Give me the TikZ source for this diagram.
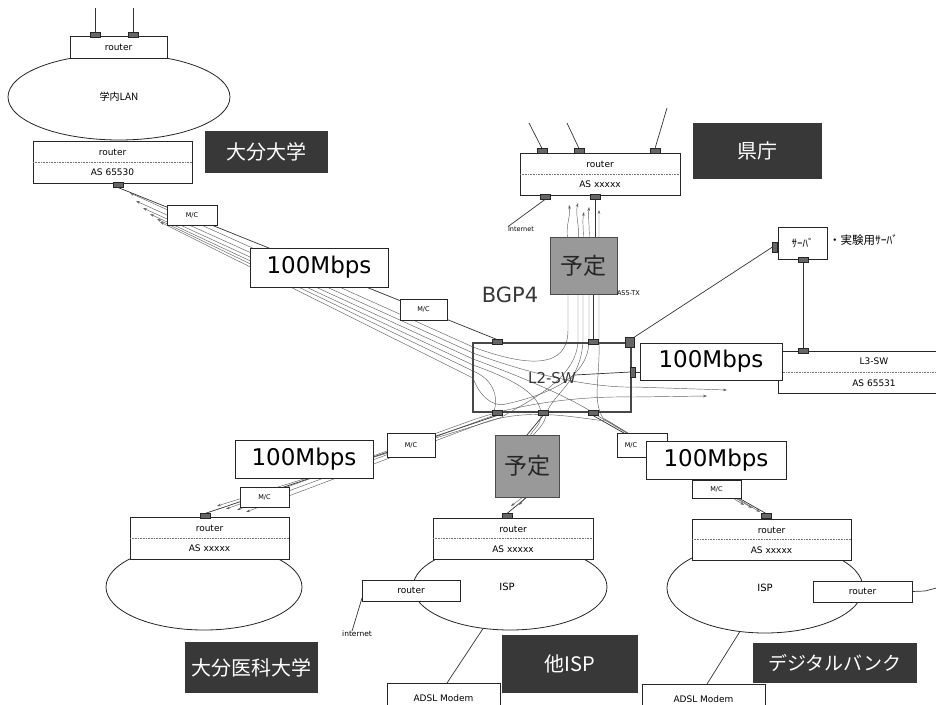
\documentclass[tikz,border=0pt]{standalone}
\usepackage{fontspec}
\setsansfont{DejaVu Sans}
\newfontfamily\cjk{Noto Sans CJK JP}
\usetikzlibrary{shapes.geometric,arrows.meta,calc}
\pgfdeclarelayer{lanlayer}
\pgfdeclarelayer{flowlayer}
\pgfsetlayers{lanlayer,flowlayer,main}
\begin{document}
\begin{tikzpicture}[x=1pt,y=-1pt,
  every node/.style={inner sep=0pt, outer sep=0pt},
  box/.style={draw=black!85, line width=0.8pt, fill=white, rectangle},
  lan/.style={draw=black!85, line width=0.8pt, ellipse, fill=white},
  port/.style={draw=black!85, fill=black!60, line width=0.4pt, minimum width=10pt, minimum height=5pt},
  vport/.style={port, minimum width=5pt, minimum height=10pt},
  darkbox/.style={fill=black!78, text=white, font=\cjk\fontsize{20}{20}\selectfont},
  tinytxt/.style={font=\sffamily\fontsize{6.5}{6.5}\selectfont},
  smalltxt/.style={font=\sffamily\fontsize{9}{9}\selectfont},
  speed/.style={box, font=\sffamily\fontsize{23}{23}\selectfont},
  mcbox/.style={box, font=\sffamily\fontsize{6.5}{6.5}\selectfont},
  plan/.style={draw=black!70, fill=black!40, line width=0.8pt, text=black!85, font=\cjk\fontsize{23}{23}\selectfont},
  link/.style={draw=black!80, line width=0.7pt},
  flow/.style={draw=black!62, line width=0.45pt, {Stealth[length=4pt,width=2.6pt]}-{Stealth[length=4pt,width=2.6pt]}},
  sepline/.style={draw=black!55, densely dotted, line width=0.6pt},
]
\useasboundingbox (0,0) rectangle (936,704);
\begin{pgfonlayer}{lanlayer}
  \fill[white] (0,0) rectangle (936,704);
  \node[lan, minimum width=222pt, minimum height=86pt, font=\cjk\fontsize{10}{10}\selectfont] (lanA) at (119,97) {学内LAN};
  \node[lan, minimum width=196pt, minimum height=86pt] (lanM) at (204,587) {};
  \node[lan, minimum width=194pt, minimum height=86pt, font=\sffamily\fontsize{10}{10}\selectfont] (lanS) at (510,587) {\hspace*{-6pt}ISP};
  \node[lan, minimum width=196pt, minimum height=90pt, font=\sffamily\fontsize{10}{10}\selectfont] (lanD) at (765,588) {ISP};
\end{pgfonlayer}

% ---------- 大分大学 ----------
\node[box, minimum width=97pt, minimum height=22pt, smalltxt] (rtA) at (118.5,47) {router};
\node[box, minimum width=159pt, minimum height=42pt] (rtB) at (112.5,162) {};
\draw[sepline] (rtB.west) -- (rtB.east);
\node[smalltxt] at ($(rtB.center)+(0,-9.5)$) {router};
\node[smalltxt] at ($(rtB.center)+(0,10.5)$) {AS 65530};
\node[darkbox, minimum width=123pt, minimum height=42pt] (dkA) at (266.5,152) {大分大学};

% ---------- 県庁 ----------
\node[box, minimum width=160pt, minimum height=42pt] (rtK) at (600,174) {};
\draw[sepline] (rtK.west) -- (rtK.east);
\node[smalltxt] at ($(rtK.center)+(0,-9.5)$) {router};
\node[smalltxt] at ($(rtK.center)+(0,10.5)$) {AS xxxxx};
\node[darkbox, minimum width=129pt, minimum height=56pt] (dkK) at (757.5,151) {県庁};
\node[tinytxt, anchor=west] (inetK) at (508,229) {Internet};

% ---------- L2-SW ----------
\node[draw=black!72, line width=2.6pt, minimum width=158pt, minimum height=69pt] (L2) at (552,377.5) {};
\node[font=\sffamily\fontsize{15}{15}\selectfont, text=black!78] (L2t) at (552,378) {L2-SW};
\node[font=\sffamily\fontsize{21}{21}\selectfont, text=black!78] (bgp) at (510,295) {BGP4};

% ---------- 予定 ----------
\node[plan, minimum width=67pt, minimum height=57pt] (yoteiA) at (583.5,265.5) {予定};
\node[tinytxt, anchor=west] (astx) at (617,293) {AS5-TX};
\node[plan, minimum width=64pt, minimum height=62pt] (yoteiB) at (527,466) {予定};

% ---------- server / L3 ----------
\node[box, minimum width=49pt, minimum height=32pt, font=\cjk\fontsize{11}{11}\selectfont] (srv) at (802.5,243) {ｻｰﾊﾞ};
\node[anchor=west, font=\cjk\fontsize{11.5}{11.5}\selectfont] (srvlab) at (829,240) {・実験用ｻｰﾊﾞ};
\node[box, minimum width=182pt, minimum height=42pt] (L3) at (869,372) {};
\draw[sepline] (L3.west) -- (L3.east);
\node[smalltxt] at (874,361.5) {L3-SW};
\node[smalltxt] at (874,383) {AS 65531};

% ---------- lower ----------
\node[box, minimum width=159pt, minimum height=42pt] (rtM) at (209.5,538) {};
\draw[sepline] (rtM.west) -- (rtM.east);
\node[smalltxt] at ($(rtM.center)+(0,-9.5)$) {router};
\node[smalltxt] at ($(rtM.center)+(0,10.5)$) {AS xxxxx};
\node[darkbox, minimum width=133pt, minimum height=51pt] (dkM) at (251.5,667.5) {大分医科大学};

\node[box, minimum width=160pt, minimum height=41pt] (rtS) at (513,538.5) {};
\draw[sepline] (rtS.west) -- (rtS.east);
\node[smalltxt] at ($(rtS.center)+(0,-9.5)$) {router};
\node[smalltxt] at ($(rtS.center)+(0,10.5)$) {AS xxxxx};
\node[box, minimum width=98pt, minimum height=21pt, smalltxt] (rtS2) at (411,590.5) {router};
\node[font=\sffamily\fontsize{7.5}{7.5}\selectfont] (inetS) at (357,634) {internet};
\node[box, minimum width=113pt, minimum height=30pt, smalltxt] (adslS) at (443.5,698) {ADSL Modem};
\node[darkbox, minimum width=136pt, minimum height=58pt] (dkS) at (570,664) {他ISP};

\node[box, minimum width=159pt, minimum height=41pt] (rtD) at (771.5,539.5) {};
\draw[sepline] (rtD.west) -- (rtD.east);
\node[smalltxt] at ($(rtD.center)+(0,-9.5)$) {router};
\node[smalltxt] at ($(rtD.center)+(0,10.5)$) {AS xxxxx};
\node[box, minimum width=99pt, minimum height=21pt, smalltxt] (rtD2) at (862.5,591.5) {router};
\node[box, minimum width=123pt, minimum height=30pt, smalltxt] (adslD) at (703.5,699) {ADSL Modem};
\node[darkbox, minimum width=164pt, minimum height=40pt, font=\cjk\fontsize{19}{19}\selectfont] (dkD) at (835,663) {デジタルバンク};
\coordinate (outD) at (940,587);

% ---------- M/C and 100Mbps ----------
\node[mcbox, minimum width=50pt, minimum height=20pt] (mc1) at (192,215) {M/C};
\node[mcbox, minimum width=47pt, minimum height=21pt] (mc2) at (423.5,309.5) {M/C};
\node[mcbox, minimum width=48pt, minimum height=24pt] (mc3) at (411,445) {M/C};
\node[mcbox, minimum width=49pt, minimum height=20pt] (mc4) at (264.5,497) {M/C};
\node[mcbox, minimum width=50pt, minimum height=24pt] (mc5) at (642,445) {\hspace*{-22pt}M/C};
\node[mcbox, minimum width=49pt, minimum height=18pt] (mc6) at (716.5,489) {M/C};
\node[speed, minimum width=138pt, minimum height=39pt] (m1) at (319,267.5) {100Mbps};
\node[speed, minimum width=142pt, minimum height=37pt] (m2) at (711,361.5) {100Mbps};
\node[speed, minimum width=138pt, minimum height=38pt] (m3) at (304,459) {100Mbps};
\node[speed, minimum width=140pt, minimum height=38pt] (m4) at (716,460) {100Mbps};

% ---------- ports ----------
\node[port] (pA1) at (95,35) {};
\node[port] (pA2) at (133,35) {};
\node[port] (pA) at (118,185) {};
\node[port] (pK1) at (542,151) {};
\node[port] (pK2) at (579,151) {};
\node[port] (pK3) at (655,151) {};
\node[port] (pKi) at (545,197) {};
\node[port] (pK) at (595,197) {};
\node[port] (pTL) at (497,342) {};
\node[port] (pT2) at (593,342) {};
\node[port, minimum width=9pt, minimum height=10pt] (pTR) at (630,342) {};
\node[vport] (pR) at (633,372) {};
\node[port] (pBL) at (497,413) {};
\node[port] (pBM) at (543,413) {};
\node[port] (pBR) at (593,413) {};
\node[vport] (pSvL) at (775,247) {};
\node[port] (pSvB) at (803,260) {};
\node[port] (pL3) at (803,351) {};
\node[port] (pM) at (205,516) {};
\node[port] (pS) at (507,516) {};
\node[port] (pD) at (766,516) {};

\coordinate (antA1) at (95,8);
\coordinate (antA2) at (133,8);
\coordinate (antK1) at (529,123);
\coordinate (antK2) at (567,123);
\coordinate (antK3) at (667,108);

\begin{pgfonlayer}{flowlayer}
  % antennas, internet, modems
  \draw[link] (pA1.north) -- (antA1);
  \draw[link] (pA2.north) -- (antA2);
  \draw[link] (pK1.north) -- (antK1);
  \draw[link] (pK2.north) -- (antK2);
  \draw[link] (pK3.north) -- (antK3);
  \draw[link] (pKi.south) -- (inetK.north west);
  \draw[link] ($(rtS2.south west)+(0,-3)$) -- ($(inetS.north)+(-5,0)$);
  \draw[link] (lanS.237) -- ($(adslS.north)+(3.5,0)$);
  \draw[link] (lanD.240) -- ($(adslD.north)+(3.5,0)$);
  \draw[link] (rtD2.east) -- (925,591) -- (outD);

  % physical links
  \draw[link] (pA.south) -- (pTL.north);
  \draw[link] (pT2.north) -- (pT2.north |- yoteiA.south);
  \draw[link] (pK.south) -- (pK.south |- yoteiA.north);
  \draw[link] (pTR.north east) -- (pSvL.west);
  \draw[link] (pSvB.south) -- (pL3.north);
  \draw[link] (pR.east) -- (L3.west);
  \draw[link] (pR.west) -- ($(pR.west)+(-56,3)$);
  \draw[link] (pBL.south) -- (pM.north);
  \draw[link] (pBM.south) -- (yoteiB.north);
  \draw[link] (yoteiB.south) -- (pS.north);
  \draw[link] (pBR.south) -- (pD.north);

  % traffic flows
  % from 大分大学
  \draw[flow] (130,193) -- (473,347) .. controls (530,368) and (568,368) .. (568,330)
     -- (568,240) .. controls (565,226) and (571,216) .. (569,205);
  \draw[flow] (136,201) -- (473,353) .. controls (540,378) and (600,388) .. (634,387) -- (727,390);
  \draw[flow] (143,208) -- (473,359) .. controls (530,380) and (575,400) .. (598,416) -- (752,508);
  \draw[flow] (150,214) -- (473,365) .. controls (515,380) and (542,395) .. (541,416)
     .. controls (540,428) and (530,430) .. (529,440) -- (526,497) -- (519,505);
  \draw[flow] (157,219) -- (473,371) .. controls (495,380) and (500,400) .. (492,416) -- (237,510);
  % from 県庁
  \draw[flow] (578,203) .. controls (575,215) and (580,226) .. (578,240) -- (578,342)
     .. controls (575,380) and (530,400) .. (500,418) -- (217,506);
  \draw[flow] (584,212) .. controls (582,222) and (584,230) .. (583,240) -- (583,342)
     .. controls (580,385) and (550,395) .. (546,416) .. controls (543,428) and (533,432) .. (531,440)
     -- (523,497) -- (511,506);
  \draw[flow] (599,210) -- (599,342) .. controls (600,380) and (592,400) .. (603,418) -- (760,512);
  \draw[flow] (589,207) .. controls (588,220) and (590,230) .. (589,240) -- (589,342)
     .. controls (588,372) and (560,392) .. (506,404) .. controls (490,408) and (478,392) .. (473,378)
     -- (160,222);
  % from 大分医科大学
  \draw[flow] (226,509) -- (470,421) .. controls (520,403) and (580,396) .. (634,397) -- (707,396);
  \draw[flow] (246,512) -- (480,424) .. controls (530,405) and (585,420) .. (608,421) -- (744,505);
\end{pgfonlayer}
\end{tikzpicture}
\end{document}
